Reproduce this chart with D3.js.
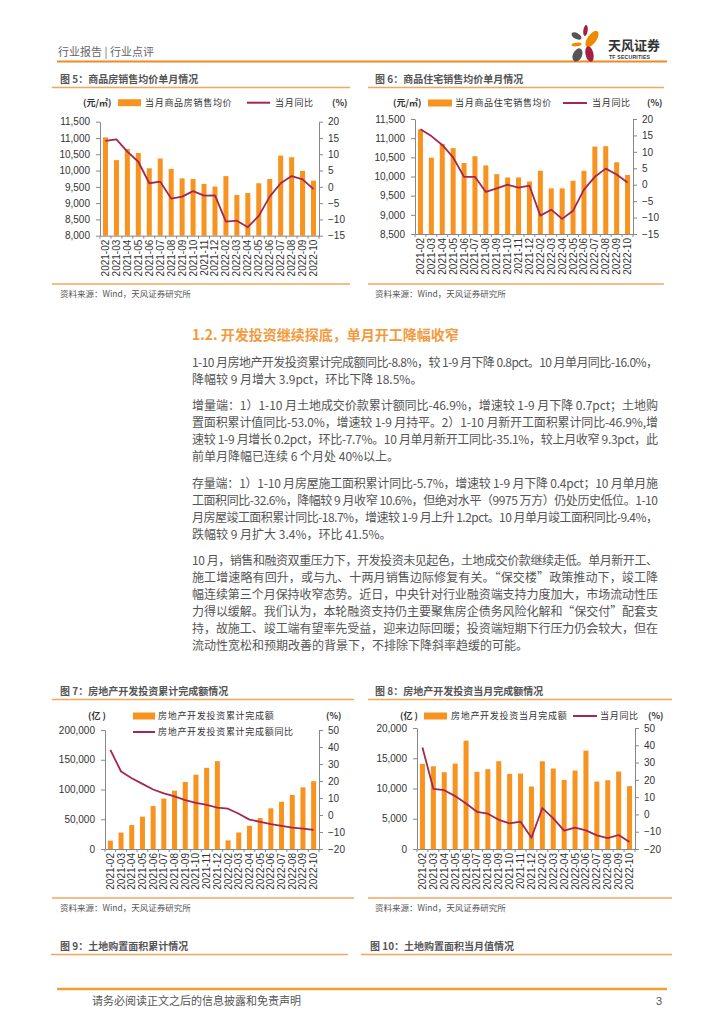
<!DOCTYPE html>
<html><head><meta charset="utf-8">
<script src="https://cdn.jsdelivr.net/npm/d3@7"></script>
<style>body{margin:0;background:#fff}svg{display:block}</style>
</head><body>
<script>
// ---------- DATA ----------
const months = ["2021-02","2021-03","2021-04","2021-05","2021-06","2021-07","2021-08","2021-09","2021-10","2021-11","2021-12",
                "2022-02","2022-03","2022-04","2022-05","2022-06","2022-07","2022-08","2022-09","2022-10"];
// Fig 5: 商品房销售均价 (元/㎡) & 当月同比 (%)
const price5 = [11020,10320,10660,10540,10070,10370,10050,9760,9740,9590,9510,9830,9250,9310,9610,9740,10460,10410,9990,9690];
const yoy5   = [14.1,14.6,10.8,7.7,1.1,1.6,-3.6,-3.0,-1.3,-2.7,-2.6,-10.7,-10.4,-12.4,-8.9,-3.0,1.1,3.3,2.3,-0.7];
// Fig 6: 商品住宅销售均价 (元/㎡) & 当月同比 (%)
const price6 = [11230,10490,10850,10740,10350,10530,10290,10060,9975,9975,9870,10150,9690,9690,9890,10150,10780,10790,10370,10040];
const yoy6   = [16.9,14.8,12.1,8.3,2.4,2.4,-2.2,-1.1,0.0,-0.9,-0.3,-9.4,-7.6,-10.4,-7.9,-1.5,2.4,4.9,3.1,0.7];
// Fig 7: 房地产开发投资累计完成额 (亿) & 同比 (%)
const cum7 = [13986,27576,40240,54318,72179,84895,98011,112568,124934,136443,147602,14499,27765,39154,52134,68314,79462,90809,103559,113945];
const cumYoy7 = [38.3,25.6,21.6,18.3,15.0,12.7,10.9,8.8,7.2,6.0,4.4,3.7,0.7,-2.7,-4.0,-5.4,-6.4,-7.4,-8.0,-8.8];
// Fig 8: 房地产开发投资当月完成额 (亿) & 当月同比 (%)
const mon8 = [14070,13680,12690,14120,17910,12750,13190,14510,12420,12470,10330,14500,13300,11430,12970,16260,11150,11370,12800,10390];
const monYoy8 = [38.7,14.8,14.0,10.6,6.3,1.5,0.4,-3.1,-5.2,-4.2,-13.5,3.7,-2.3,-9.4,-7.7,-9.2,-12.1,-13.7,-11.9,-16.0];
// tick labels
const ticks5L = [8000,8500,9000,9500,10000,10500,11000,11500];
const ticks5R = [-15,-10,-5,0,5,10,15,20];
const ticks6L = [8500,9000,9500,10000,10500,11000,11500];
const ticks6R = [-15,-10,-5,0,5,10,15,20];
const ticks7L = [0,50000,100000,150000,200000];
const ticks7R = [-20,-10,0,10,20,30,40,50];
const ticks8L = [0,5000,10000,15000,20000];
const ticks8R = [-20,-10,0,10,20,30,40,50];

const paras = [
 {y:367, lines:["1-10 月房地产开发投资累计完成额同比-8.8%，较 1-9 月下降 0.8pct。10 月单月同比-16.0%，",
                "降幅较 9 月增大 3.9pct，环比下降 18.5%。"]},
 {y:410, lines:["增量端：1）1-10 月土地成交价款累计额同比-46.9%，增速较 1-9 月下降 0.7pct；土地购",
                "置面积累计值同比-53.0%，增速较 1-9 月持平。2）1-10 月新开工面积累计同比-46.9%,增",
                "速较 1-9 月增长 0.2pct，环比-7.7%。10 月单月新开工同比-35.1%，较上月收窄 9.3pct，此",
                "前单月降幅已连续 6 个月处 40%以上。"]},
 {y:488, lines:["存量端：1）1-10 月房屋施工面积累计同比-5.7%，增速较 1-9 月下降 0.4pct；10 月单月施",
                "工面积同比-32.6%，降幅较 9 月收窄 10.6%，但绝对水平（9975 万方）仍处历史低位。1-10",
                "月房屋竣工面积累计同比-18.7%，增速较 1-9 月上升 1.2pct。10 月单月竣工面积同比-9.4%，",
                "跌幅较 9 月扩大 3.4%，环比 41.5%。"]},
 {y:565, lines:["10 月，销售和融资双重压力下，开发投资未见起色，土地成交价款继续走低。单月新开工、",
                "施工增速略有回升，或与九、十两月销售边际修复有关。“保交楼”政策推动下，竣工降",
                "幅连续第三个月保持收窄态势。近日，中央针对行业融资端支持力度加大，市场流动性压",
                "力得以缓解。我们认为，本轮融资支持仍主要聚焦房企债务风险化解和“保交付”配套支",
                "持，故施工、竣工端有望率先受益，迎来边际回暖；投资端短期下行压力仍会较大，但在",
                "流动性宽松和预期改善的背景下，不排除下降斜率趋缓的可能。"]}
];

// ---------- DRAW ----------
const W=724,H=1024;
const CJK = "'Noto Sans CJK SC','Noto Sans',sans-serif";
const LAT = "'Liberation Sans',Arial,sans-serif";
const ORANGE="#f7931e", LINEC="#a3284f", TXT="#555";
const svg = d3.select("body").append("svg").attr("width",W).attr("height",H);

// header
svg.append("text").attr("x",58).attr("y",56).attr("font-family",CJK).attr("font-size",11)
   .attr("fill","#666").text("行业报告 | 行业点评");
svg.append("line").attr("x1",57).attr("x2",667).attr("y1",61.5).attr("y2",61.5)
   .attr("stroke","#f08a24").attr("stroke-width",2);
// logo
const petals = [
 {cx:585.5,cy:30.5,rx:2.2,ry:5.5,r:8,c:"#a3203f"},
 {cx:576.5,cy:36,rx:5.5,ry:3,r:30,c:"#555"},
 {cx:592,cy:39,rx:4.5,ry:9.5,r:35,c:"#f08a00"},
 {cx:576.5,cy:44.5,rx:5,ry:1.8,r:-5,c:"#f08a00"},
 {cx:577.5,cy:55,rx:4.5,ry:7,r:25,c:"#555"},
 {cx:589.5,cy:54,rx:4,ry:8,r:-12,c:"#a3203f"}];
svg.append("g").selectAll("ellipse").data(petals).join("ellipse")
  .attr("cx",d=>d.cx).attr("cy",d=>d.cy).attr("rx",d=>d.rx).attr("ry",d=>d.ry)
  .attr("transform",d=>`rotate(${d.r},${d.cx},${d.cy})`).attr("fill",d=>d.c);
svg.append("text").attr("x",608).attr("y",50).attr("font-family",CJK).attr("font-size",13)
   .attr("font-weight","bold").attr("fill","#333").attr("textLength",52).text("天风证券");
svg.append("text").attr("x",609).attr("y",58.5).attr("font-family",LAT).attr("font-size",5.2)
   .attr("font-weight","bold").attr("fill","#333").attr("textLength",41).text("TF SECURITIES");

function panelFrame(p){
  svg.append("text").attr("x",p.tx).attr("y",p.ty).attr("font-family",CJK).attr("font-size",10)
     .attr("font-weight","bold").attr("fill","#555").text(p.title);
  svg.append("line").attr("x1",p.lx1).attr("x2",p.lx2).attr("y1",p.ty+4.5).attr("y2",p.ty+4.5)
     .attr("stroke","#f5a55c").attr("stroke-width",1.5);
  if(p.by!==undefined){
    svg.append("line").attr("x1",p.lx1).attr("x2",p.lx2).attr("y1",p.by).attr("y2",p.by)
       .attr("stroke","#f5a55c").attr("stroke-width",1.5);
    svg.append("text").attr("x",p.tx).attr("y",p.by+13).attr("font-family",CJK).attr("font-size",8.5)
       .attr("fill","#555").text("资料来源：Wind，天风证券研究所");
  }
}

function chart(c){
  const g = svg.append("g");
  const x = d3.scaleBand().domain(months).range([c.x0,c.x1]);
  const bw = x.bandwidth();
  const yL = d3.scaleLinear().domain([c.lt[0],c.lt[c.lt.length-1]]).range([c.yB,c.yT]);
  const yR = d3.scaleLinear().domain([c.rt[0],c.rt[c.rt.length-1]]).range([c.yB,c.yT]);
  // bars
  g.append("g").selectAll("rect").data(months).join("rect")
    .attr("x",(m)=>x(m)+bw/2-c.barW/2).attr("width",c.barW)
    .attr("y",(m,i)=>yL(c.bars[i])).attr("height",(m,i)=>yL(c.lt[0])-yL(c.bars[i]))
    .attr("fill",ORANGE);
  // axes
  const ax = (sel)=>{sel.selectAll("path,line").attr("stroke","#888");
     sel.selectAll("text").attr("font-family",LAT).attr("font-size",10).attr("fill","#333");};
  g.append("g").attr("transform",`translate(${c.x0},0)`)
    .call(d3.axisLeft(yL).tickValues(c.lt).tickSize(4).tickSizeOuter(0).tickPadding(6).tickFormat(d3.format(",")))
    .call(ax);
  g.append("g").attr("transform",`translate(${c.x1},0)`)
    .call(d3.axisRight(yR).tickValues(c.rt).tickSize(4).tickSizeOuter(0).tickPadding(5).tickFormat(d3.format("d")))
    .call(ax);
  const bx = g.append("g").attr("transform",`translate(0,${c.yB})`)
    .call(d3.axisBottom(x).tickSize(0).tickSizeOuter(0)).call(ax);
  bx.selectAll("text").attr("transform","rotate(-90)").attr("x",-4).attr("y",0)
    .attr("dy","0.35em").style("text-anchor","end").attr("font-size",10);
  // boundary ticks
  g.append("g").selectAll("line").data(months.concat(["__end"])).join("line")
    .attr("x1",(m,i)=>i<months.length?x(m):c.x1).attr("x2",(m,i)=>i<months.length?x(m):c.x1)
    .attr("y1",c.yB).attr("y2",c.yB+3).attr("stroke","#888");
  // line
  const ln = d3.line().x((d,i)=>x(months[i])+bw/2).y(d=>yR(d));
  g.append("path").datum(c.line).attr("d",ln).attr("fill","none")
    .attr("stroke",LINEC).attr("stroke-width",1.8).attr("stroke-linejoin","round");
  // legend
  const lt = (xx,yy,t,extra)=>g.append("text").attr("x",xx).attr("y",yy+3.2).attr("font-family",CJK)
      .attr("font-size",9).attr("fill","#333").attr("letter-spacing",extra===undefined?0.7:extra).text(t);
  lt(c.unit.x,c.unit.y,c.unit.t,0).attr("font-weight","bold");
  lt(c.pct.x,c.pct.y,"(%)",0).attr("font-weight","bold");
  g.append("rect").attr("x",c.lb.x).attr("y",c.lb.y-3.5).attr("width",c.lb.w).attr("height",7).attr("fill",ORANGE);
  lt(c.lb.tx,c.lb.y,c.lb.t);
  g.append("line").attr("x1",c.ll.x).attr("x2",c.ll.x+c.ll.w).attr("y1",c.ll.y).attr("y2",c.ll.y)
    .attr("stroke",LINEC).attr("stroke-width",2);
  lt(c.ll.tx,c.ll.y,c.ll.t);
}

// Fig 5
panelFrame({title:"图 5：商品房销售均价单月情况",tx:60,ty:83,lx1:52,lx2:350,by:284});
chart({x0:100,x1:319,yT:121.7,yB:235.7,lt:ticks5L,rt:ticks5R,bars:price5,line:yoy5,barW:5,
  unit:{x:83,y:102.7,t:"(元/㎡)"},pct:{x:332,y:102.7},
  lb:{x:118,y:102.7,w:23,tx:145,t:"当月商品房销售均价"},
  ll:{x:247,y:102.7,w:23,tx:275,t:"当月同比"}});
// Fig 6
panelFrame({title:"图 6：商品住宅销售均价单月情况",tx:375,ty:83,lx1:368,lx2:664,by:284});
chart({x0:415,x1:633,yT:119,yB:234,lt:ticks6L,rt:ticks6R,bars:price6,line:yoy6,barW:5,
  unit:{x:393,y:103,t:"(元/㎡)"},pct:{x:647,y:103},
  lb:{x:428,y:103,w:24,tx:455,t:"当月商品住宅销售均价"},
  ll:{x:563,y:103,w:24,tx:592,t:"当月同比"}});

// body text
svg.append("text").attr("x",192).attr("y",340).attr("font-family",CJK).attr("font-size",14)
   .attr("font-weight","bold").attr("fill","#f39a3d").text("1.2. 开发投资继续探底，单月开工降幅收窄");
paras.forEach(p=>{
  p.lines.forEach((l,i)=>{
    const t = svg.append("text").attr("x",192).attr("y",p.y+i*17).attr("font-family",CJK)
      .attr("font-size",12).attr("fill",TXT).text(l);
    if(i<p.lines.length-1) t.attr("textLength",466).attr("lengthAdjust","spacing");
  });
});

// Fig 7
panelFrame({title:"图 7：房地产开发投资累计完成额情况",tx:60,ty:695,lx1:52,lx2:354,by:898});
chart({x0:105,x1:319,yT:730,yB:849,lt:ticks7L,rt:ticks7R,bars:cum7,line:cumYoy7,barW:5,
  unit:{x:88,y:716,t:"(亿 )"},pct:{x:326,y:716},
  lb:{x:133,y:716,w:22,tx:158,t:"房地产开发投资累计完成额"},
  ll:{x:133,y:732,w:22,tx:158,t:"房地产开发投资累计完成额同比"}});
// Fig 8
panelFrame({title:"图 8：房地产开发投资当月完成额情况",tx:375,ty:695,lx1:368,lx2:672,by:898});
chart({x0:417,x1:635,yT:728,yB:849,lt:ticks8L,rt:ticks8R,bars:mon8,line:monYoy8,barW:5,
  unit:{x:400,y:716,t:"(亿 )"},pct:{x:648,y:716},
  lb:{x:424,y:716,w:23,tx:451,t:"房地产开发投资当月完成额"},
  ll:{x:573,y:716,w:24,tx:600,t:"当月同比"}});

// Fig 9 / 10 titles
panelFrame({title:"图 9：土地购置面积累计情况",tx:60,ty:950,lx1:51,lx2:348});
panelFrame({title:"图 10：土地购置面积当月值情况",tx:370,ty:950,lx1:361,lx2:672});

// footer
svg.append("line").attr("x1",57).attr("x2",667).attr("y1",989).attr("y2",989)
   .attr("stroke","#f0a030").attr("stroke-width",2.5);
svg.append("text").attr("x",92).attr("y",1005).attr("font-family",CJK).attr("font-size",11)
   .attr("fill","#555").text("请务必阅读正文之后的信息披露和免责声明");
svg.append("text").attr("x",656).attr("y",1005).attr("font-family",LAT).attr("font-size",11)
   .attr("fill","#555").text("3");
</script>
</body></html>
